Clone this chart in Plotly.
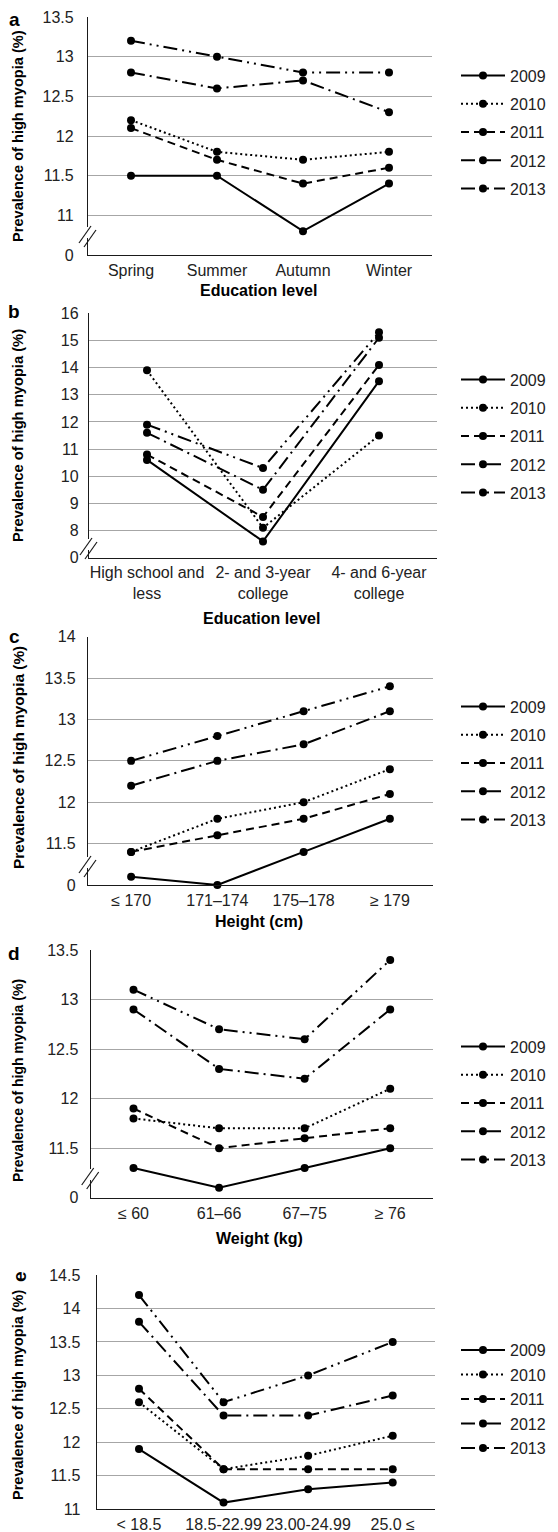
import plotly.graph_objects as go

# the page body adds an 8px offset; the figure is sized to the visible area
OFF = 8
W, H = 558 - OFF, 1532 - OFF

years = ["2009", "2010", "2011", "2012", "2013"]
dash_styles = ["solid", "2px,3px", "8px,5px", "14px,5px,2px,5px", "14px,5px,2px,5px,2px,5px"]

# Panel a: season
season_cats = ["Spring", "Summer", "Autumn", "Winter"]
season_2009 = [11.5, 11.5, 10.8, 11.4]
season_2010 = [12.2, 11.8, 11.7, 11.8]
season_2011 = [12.1, 11.7, 11.4, 11.6]
season_2012 = [12.8, 12.6, 12.7, 12.3]
season_2013 = [13.2, 13.0, 12.8, 12.8]
season_tickvals = [10.5, 11, 11.5, 12, 12.5, 13, 13.5]
season_ticktext = ["0", "11", "11.5", "12", "12.5", "13", "13.5"]

# Panel b: education
edu_cats = ["High school and<br>less", "2- and 3-year<br>college", "4- and 6-year<br>college"]
edu_2009 = [10.6, 7.6, 13.5]
edu_2010 = [13.9, 8.1, 11.5]
edu_2011 = [10.8, 8.5, 14.1]
edu_2012 = [11.6, 9.5, 15.1]
edu_2013 = [11.9, 10.3, 15.3]
edu_tickvals = [7, 8, 9, 10, 11, 12, 13, 14, 15, 16]
edu_ticktext = ["0", "8", "9", "10", "11", "12", "13", "14", "15", "16"]

# Panel c: height
height_cats = ["≤ 170", "171–174", "175–178", "≥ 179"]
height_2009 = [11.1, 11.0, 11.4, 11.8]
height_2010 = [11.4, 11.8, 12.0, 12.4]
height_2011 = [11.4, 11.6, 11.8, 12.1]
height_2012 = [12.2, 12.5, 12.7, 13.1]
height_2013 = [12.5, 12.8, 13.1, 13.4]
height_tickvals = [11, 11.5, 12, 12.5, 13, 13.5, 14]
height_ticktext = ["0", "11.5", "12", "12.5", "13", "13.5", "14"]

# Panel d: weight
weight_cats = ["≤ 60", "61–66", "67–75", "≥ 76"]
weight_2009 = [11.3, 11.1, 11.3, 11.5]
weight_2010 = [11.8, 11.7, 11.7, 12.1]
weight_2011 = [11.9, 11.5, 11.6, 11.7]
weight_2012 = [12.9, 12.3, 12.2, 12.9]
weight_2013 = [13.1, 12.7, 12.6, 13.4]
weight_tickvals = [11, 11.5, 12, 12.5, 13, 13.5]
weight_ticktext = ["0", "11.5", "12", "12.5", "13", "13.5"]

# Panel e: BMI
bmi_cats = ["< 18.5", "18.5-22.99", "23.00-24.99", "25.0 ≤"]
bmi_2009 = [11.9, 11.1, 11.3, 11.4]
bmi_2010 = [12.6, 11.6, 11.8, 12.1]
bmi_2011 = [12.8, 11.6, 11.6, 11.6]
bmi_2012 = [13.8, 12.4, 12.4, 12.7]
bmi_2013 = [14.2, 12.6, 13.0, 13.5]
bmi_tickvals = [11, 11.5, 12, 12.5, 13, 13.5, 14, 14.5]
bmi_ticktext = ["11", "11.5", "12", "12.5", "13", "13.5", "14", "14.5"]

panel_letters = ["a", "b", "c", "d", "e"]
x_titles = ["Education level", "Education level", "Height (cm)", "Weight (kg)", None]
y_title = "Prevalence of high myopia (%)"

# layout geometry (screen pixels)
panels = [
    dict(cats=season_cats, series=[season_2009, season_2010, season_2011, season_2012, season_2013],
         tv=season_tickvals, tt=season_ticktext, rng=[10.5, 13.5],
         left=88, right=432, top=17, bottom=255, brk=22, leg=132, gap=4.5,
         letter=(14, 20), ytc=136, yts=14.6, xt=290, ystand=10, xtl=1, brkflag=True),
    dict(cats=edu_cats, series=[edu_2009, edu_2010, edu_2011, edu_2012, edu_2013],
         tv=edu_tickvals, tt=edu_ticktext, rng=[7, 16],
         left=89, right=437, top=313.3, bottom=557.7, brk=12.7, leg=436, gap=4.5,
         letter=(14, 312), ytc=436, yts=14.7, xt=618, ystand=6, xtl=0, brkflag=True),
    dict(cats=height_cats, series=[height_2009, height_2010, height_2011, height_2012, height_2013],
         tv=height_tickvals, tt=height_ticktext, rng=[11, 14],
         left=88, right=433, top=636.7, bottom=885, brk=22, leg=763, gap=4.5,
         letter=(14, 636), ytc=758, yts=15.4, xt=921.7, ystand=8, xtl=1, brkflag=True),
    dict(cats=weight_cats, series=[weight_2009, weight_2010, weight_2011, weight_2012, weight_2013],
         tv=weight_tickvals, tt=weight_ticktext, rng=[11, 13.5],
         left=90.7, right=433, top=950, bottom=1197.7, brk=22.7, leg=1103, gap=4.5,
         letter=(14, 953), ytc=1081, yts=14.0, xt=1238, ystand=8, xtl=1, brkflag=True),
    dict(cats=bmi_cats, series=[bmi_2009, bmi_2010, bmi_2011, bmi_2012, bmi_2013],
         tv=bmi_tickvals, tt=bmi_ticktext, rng=[11, 14.5],
         left=96.7, right=435, top=1275, bottom=1509.3, brk=None, leg=1399, gap=0.7,
         letter=(19, 1277), ytc=1395, yts=14.5, xt=None, ystand=12, xtl=0, brkflag=False),
]

FONT = "Liberation Sans, Arial, sans-serif"
fig = go.Figure()
layout = dict(width=W, height=H, margin=dict(l=0, r=0, t=0, b=0, pad=0, autoexpand=False),
              paper_bgcolor="white", plot_bgcolor="white", showlegend=True,
              font=dict(family=FONT, size=16, color="#222"))
shapes = []
annotations = []


def px(p):
    return (p - OFF) / W


def py(p):
    return 1 - (p - OFF) / H


for i, p in enumerate(panels):
    k = i + 1
    xa = "xaxis" if k == 1 else f"xaxis{k}"
    ya = "yaxis" if k == 1 else f"yaxis{k}"
    xr = "x" if k == 1 else f"x{k}"
    yr = "y" if k == 1 else f"y{k}"
    lg = "legend" if k == 1 else f"legend{k}"
    for j, yr_name in enumerate(years):
        fig.add_trace(go.Scatter(
            x=p["cats"], y=p["series"][j], name=yr_name, xaxis=xr, yaxis=yr,
            mode="lines+markers", legend=lg, legendgroup=f"{k}-{yr_name}",
            line=dict(color="black", width=2, dash=dash_styles[j]),
            marker=dict(color="black", size=8, symbol="circle"),
            cliponaxis=False, hoverinfo="skip"))
    layout[xa] = dict(domain=[px(p["left"]), px(p["right"])], anchor=yr, type="category",
                      range=[-0.5, len(p["cats"]) - 0.5], showgrid=False, zeroline=False,
                      showline=True, linecolor="#1a1a1a", linewidth=1.3, automargin=False,
                      ticks="outside", ticklen=p["xtl"], tickcolor="rgba(0,0,0,0)",
                      ticklabeloverflow="allow",
                      tickfont=dict(size=16, color="#222", family=FONT), fixedrange=True)
    layout[ya] = dict(domain=[py(p["bottom"]), py(p["top"])], anchor=xr,
                      range=p["rng"], tickvals=p["tv"], ticktext=p["tt"], automargin=False,
                      showgrid=True, gridcolor="#a6a6a6", gridwidth=1, zeroline=False,
                      showline=True, linecolor="#1a1a1a", linewidth=1.3,
                      ticks="outside", ticklen=p["ystand"], tickcolor="rgba(0,0,0,0)",
                      ticklabeloverflow="allow",
                      tickfont=dict(size=16, color="#222", family=FONT), fixedrange=True)
    layout[lg] = dict(x=px(456), xanchor="left", y=py(p["leg"]), yanchor="middle",
                      font=dict(size=16, color="#222", family=FONT), itemwidth=44,
                      traceorder="grouped", tracegroupgap=p["gap"],
                      bgcolor="rgba(0,0,0,0)", itemclick=False, itemdoubleclick=False)
    # panel letter
    lx, ly = p["letter"]
    annotations.append(dict(text=f"<b>{panel_letters[i]}</b>", x=px(lx), y=py(ly), xref="paper", yref="paper",
                            xanchor="center", yanchor="middle",
                            showarrow=False, font=dict(size=19, color="black", family=FONT),
                            textangle=-90 if i == 4 else 0))
    annotations.append(dict(text=f"<b>{y_title}</b>", x=px(18), y=py(p["ytc"]), xref="paper", yref="paper",
                            xanchor="center", yanchor="middle",
                            showarrow=False, textangle=-90, font=dict(size=p["yts"], color="black", family=FONT)))
    if x_titles[i]:
        annotations.append(dict(text=f"<b>{x_titles[i]}</b>", x=px((p["left"] + p["right"]) / 2 - 2), y=py(p["xt"]),
                                xref="paper", yref="paper", showarrow=False,
                                xanchor="center", yanchor="middle",
                                font=dict(size=16, color="black", family=FONT)))
    if p["brkflag"]:
        ax = p["left"]
        cy = p["bottom"] - p["brk"]
        shapes.append(dict(type="rect", xref="paper", yref="paper", x0=px(ax - 1.5), x1=px(ax + 1.5),
                           y0=py(cy + 5), y1=py(cy - 6), fillcolor="white", line=dict(width=0), layer="above"))
        shapes.append(dict(type="line", xref="paper", yref="paper", x0=px(ax - 9), y0=py(cy + 10),
                           x1=px(ax + 3), y1=py(cy - 7), line=dict(color="#1a1a1a", width=1.2), layer="above"))
        shapes.append(dict(type="line", xref="paper", yref="paper", x0=px(ax - 4), y0=py(cy + 14),
                           x1=px(ax + 8), y1=py(cy - 3), line=dict(color="#1a1a1a", width=1.2), layer="above"))

layout["shapes"] = shapes
layout["annotations"] = annotations
fig.update_layout(**layout)
fig.write_html("out.html")
